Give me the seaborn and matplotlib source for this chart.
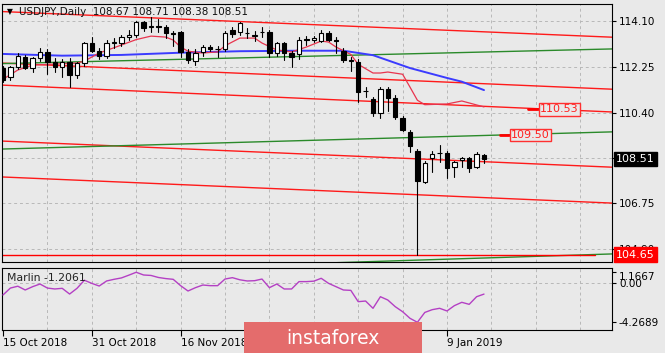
import matplotlib
matplotlib.use("Agg")
import matplotlib.pyplot as plt
from matplotlib.patches import Rectangle
import numpy as np
import pandas as pd
import seaborn as sns

# ---------------- data ----------------
opens = [112.20, 111.84, 112.24, 112.65, 112.20, 112.60, 112.85, 112.45, 112.24, 112.45,
         111.90, 112.40, 113.20, 112.90, 112.70, 113.20, 113.20, 113.45, 113.55, 114.05,
         113.85, 113.90, 113.85, 113.60, 113.65, 112.85, 112.50, 112.85, 113.05, 112.97,
         112.95, 113.75, 113.65, 113.60, 113.50, 113.65, 113.65, 112.80, 113.20, 112.80,
         112.75, 113.35, 113.33, 113.30, 113.62, 113.33, 112.90, 112.50, 112.45, 111.27,
         110.95, 110.40, 111.35, 111.00, 110.20, 109.60, 108.85, 107.60, 108.55, 108.77,
         108.77, 108.20, 108.48, 108.55, 108.20, 108.67]
highs = [112.30, 112.30, 112.80, 112.72, 112.65, 113.00, 112.95, 112.60, 112.55, 112.60,
         112.45, 113.25, 113.45, 113.00, 113.35, 113.40, 113.55, 113.75, 114.10, 114.10,
         114.25, 114.20, 113.95, 113.70, 113.70, 112.95, 112.95, 113.15, 113.15, 113.10,
         113.70, 113.85, 114.05, 113.80, 113.70, 113.85, 113.75, 113.25, 113.25, 112.90,
         113.45, 113.50, 113.50, 113.75, 113.70, 113.45, 113.00, 112.65, 112.55, 111.45,
         111.05, 111.45, 111.45, 111.10, 110.25, 109.70, 108.95, 108.45, 108.85, 109.10,
         108.85, 108.45, 108.62, 108.60, 108.82, 108.71]
lows = [111.62, 111.70, 112.15, 112.15, 112.05, 112.50, 111.98, 112.04, 111.85, 111.43,
        111.80, 112.30, 112.85, 112.55, 112.60, 113.00, 113.10, 113.35, 113.45, 113.70,
        113.65, 113.65, 113.40, 113.10, 112.65, 112.40, 112.32, 112.70, 112.90, 112.65,
        112.90, 113.45, 113.55, 113.40, 113.30, 113.45, 112.66, 112.70, 112.52, 112.26,
        112.55, 113.15, 113.25, 113.25, 113.30, 112.80, 112.45, 112.10, 110.84, 111.04,
        110.26, 110.18, 110.47, 110.15, 109.65, 108.80, 104.65, 107.54, 108.01, 108.42,
        107.75, 107.80, 108.19, 108.01, 108.15, 108.38]
closes = [111.72, 112.24, 112.69, 112.22, 112.60, 112.85, 112.45, 112.24, 112.45, 111.90,
          112.40, 113.20, 112.90, 112.70, 113.20, 113.25, 113.45, 113.55, 114.05, 113.80,
          113.88, 113.85, 113.60, 113.58, 112.85, 112.52, 112.80, 113.05, 112.95, 112.95,
          113.60, 113.57, 114.00, 113.60, 113.52, 113.66, 112.80, 113.20, 112.80, 112.66,
          113.33, 113.34, 113.40, 113.62, 113.33, 113.31, 112.53, 112.51, 111.25, 111.26,
          110.38, 111.34, 110.98, 110.23, 109.70, 109.05, 107.65, 108.37, 108.73, 108.76,
          108.16, 108.41, 108.55, 108.16, 108.73, 108.51]

blue_ma_bars = [0, 8, 16, 24, 32, 40, 46, 50, 55, 60, 62, 65]
blue_ma_vals = [112.77, 112.70, 112.73, 112.82, 112.88, 112.90, 112.90, 112.72, 112.20,
                111.80, 111.65, 111.31]

pink_ma_bars = [0, 2, 4, 10, 11, 13, 15, 18, 20, 22, 23, 24, 25, 27, 29, 30, 32, 34, 35,
                37, 39, 41, 43, 44, 45, 47, 48, 50, 51, 52, 54, 55, 56, 57, 60, 62, 63, 65]
pink_ma_vals = [111.75, 112.12, 112.32, 112.40, 112.48, 112.81, 113.02, 113.35, 113.49,
                113.45, 113.33, 113.05, 112.88, 112.81, 112.85, 113.10, 113.41, 113.41,
                113.21, 112.93, 112.85, 113.05, 113.29, 113.25, 113.05, 112.75, 112.35,
                112.00, 112.00, 112.04, 111.95, 111.43, 110.90, 110.72, 110.75, 110.87,
                110.79, 110.63]

marlin_vals = [-1.30, -0.55, -0.35, -0.76, -0.40, -0.11, -0.55, -0.65, -0.58, -1.20,
               -0.58, 0.30, -0.04, -0.33, 0.22, 0.40, 0.55, 0.85, 1.1667, 0.87,
               0.82, 0.60, 0.48, 0.40, -0.29, -0.87, -0.51, -0.22, -0.29, -0.29,
               0.43, 0.58, 0.35, 0.22, 0.25, 0.43, -0.51, -0.11, -0.65, -0.65,
               0.15, 0.15, 0.20, 0.51, -0.04, -0.40, -0.76, -0.80, -2.03, -1.96,
               -2.75, -1.49, -1.85, -2.57, -3.12, -3.84, -4.2689, -3.20, -2.90, -2.75,
               -3.04, -2.46, -2.10, -2.32, -1.49, -1.2061]

# trend lines: price at bar 0 and at bar 82
red_line_left = [114.48, 112.40, 111.51, 109.25, 107.80]
red_line_right = [113.45, 111.35, 110.43, 108.20, 106.75]
green_line_start_bar = [0, 0, 22]
green_line_left = [112.38, 108.93, 104.12]
green_line_right = [112.97, 109.62, 104.69]
support_level = 104.65
level_labels = [110.53, 109.50]
level_label_bar = [72.3, 68.4]

tick_bars = [0, 12, 24, 36, 48, 60]
tick_dates = ["15 Oct 2018", "31 Oct 2018", "16 Nov 2018", "", "", "9 Jan 2019"]
price_ticks = [114.10, 112.25, 110.40, 108.55, 106.75, 104.90]
price_tick_labels = ["114.10", "112.25", "110.40", "", "106.75", "104.90"]
marlin_ticks = [1.1667, 0.0, -4.2689]
marlin_tick_labels = ["1.1667", "0.00", "-4.2689"]
last_price = 108.51
title_text = "USDJPY,Daily  108.67 108.71 108.38 108.51"

# ---------------- style ----------------
BG = "#e9e9e9"
sns.set_theme(style="white", rc={"axes.facecolor": BG, "figure.facecolor": BG})
plt.rcParams["font.family"] = ["DejaVu Sans"]
FS = 7.5

W, H = 665, 353
fig = plt.figure(figsize=(W / 100, H / 100), dpi=100)
ax1 = fig.add_axes([2 / W, 1 - 262 / H, 610 / W, 258 / H])
ax2 = fig.add_axes([2 / W, 1 - 330 / H, 610 / W, 62 / H])

XLIM = (-1 / 7.4, 609 / 7.4)
for ax in (ax1, ax2):
    ax.set_facecolor(BG)
    ax.set_xlim(*XLIM)
    for s in ax.spines.values():
        s.set_color("black")
        s.set_linewidth(0.8)
    ax.yaxis.tick_right()
    ax.tick_params(axis="y", which="both", direction="out", length=3, width=0.8,
                   colors="black", labelsize=FS, pad=2, right=True, left=False)
ax1.set_ylim(104.367, 114.787)
ax2.set_ylim(-5.109, 1.630)

grid_kw = dict(color="#b8b8b8", lw=0.7, ls=(0, (3, 3)), zorder=0.5)
for b in range(6, 83, 6):
    ax1.axvline(b, **grid_kw)
    ax2.axvline(b, **grid_kw)
for p in price_ticks:
    ax1.axhline(p, **grid_kw)
ax2.axhline(0, **grid_kw)

# trend lines
for l, r in zip(red_line_left, red_line_right):
    ax1.plot([0 - 1, 82 + 1], [l - (r - l) / 82, r + (r - l) / 82], color="#ff1a1a", lw=1.0, zorder=1)
for sb, l, r in zip(green_line_start_bar, green_line_left, green_line_right):
    ax1.plot([sb, 83], [l, r + (r - l) / (82 - sb)], color="#2a8a2a", lw=1.0, zorder=1)
ax1.plot([-1, 80], [support_level, support_level], color="#ff0000", lw=1.0, zorder=1)

# moving averages
sns.lineplot(x=blue_ma_bars, y=blue_ma_vals, ax=ax1, color="#3b3bff", lw=1.4, zorder=2)
sns.lineplot(x=pink_ma_bars, y=pink_ma_vals, ax=ax1, color="#e8344e", lw=0.9, zorder=2)

# candles
df = pd.DataFrame({"o": opens, "h": highs, "l": lows, "c": closes})
bw = 0.62
for i, r in df.iterrows():
    ax1.plot([i, i], [r.l, r.h], color="black", lw=0.8, zorder=3)
    bottom = min(r.o, r.c)
    height = max(abs(r.c - r.o), 0.025)
    fc = "white" if r.c > r.o else "black"
    ax1.add_patch(Rectangle((i - bw / 2, bottom), bw, height, facecolor=fc,
                            edgecolor="black", lw=0.8, zorder=4))

# level labels
for lv, lb in zip(level_labels, level_label_bar):
    ax1.plot([lb - 1.3, lb], [lv, lv], color="#ff0000", lw=2.0, zorder=5)
    ax1.text(lb + 0.25, lv, f"{lv:.2f}", color="#ff2020", fontsize=FS + 0.5, va="center", ha="left",
             zorder=6, bbox=dict(boxstyle="square,pad=0.12", fc=BG, ec="#ff3030", lw=1.0))

ax1.set_yticks(price_ticks)
ax1.set_yticklabels(price_tick_labels)
ax1.set_xticks([])
ax1.set_xlabel("")
ax1.set_ylabel("")

# indicator
sns.lineplot(x=list(range(len(marlin_vals))), y=marlin_vals, ax=ax2, color="#b440c4", lw=1.0, zorder=3)
ax2.set_yticks(marlin_ticks)
ax2.set_yticklabels(marlin_tick_labels)
for t in ax2.get_yticklabels():
    if t.get_text() == "1.1667":
        t.set_va("top")
ax2.set_xticks(tick_bars)
ax2.set_xticklabels(tick_dates, ha="left")
ax2.tick_params(axis="x", direction="out", length=4, width=0.8, labelsize=FS, pad=2,
                colors="black", bottom=True)
for t in ax2.get_xticklabels():
    t.set_horizontalalignment("left")
ax2.set_xlabel("")
ax2.set_ylabel("")
ax2.text(0.008, 0.84, "Marlin " + f"{marlin_vals[-1]:.4f}", transform=ax2.transAxes,
         fontsize=FS + 0.3, color="#222222", va="center", ha="left")

# title
fig.text(7 / W, 1 - 12 / H, "\u25BC", fontsize=5.5, color="black", va="center", ha="left")
fig.text(19 / W, 1 - 12 / H, title_text, fontsize=FS, color="#111111", va="center", ha="left")

# right axis boxes
fig.text(616 / W, 1 - 159 / H, f"{last_price:.2f}", fontsize=FS + 0.5, color="white", va="center",
         ha="left", bbox=dict(boxstyle="square,pad=0.2", fc="black", ec="black"), zorder=6)
fig.text(616 / W, 1 - 254.5 / H, f"{support_level:.2f}", fontsize=FS + 0.5, color="white", va="center",
         ha="left", bbox=dict(boxstyle="square,pad=0.2", fc="#ff0000", ec="#ff0000"), zorder=6)

# watermark
fig.add_artist(Rectangle((244 / W, 0), 178 / W, 31 / H, transform=fig.transFigure,
                         facecolor="#e46c6c", edgecolor="none", zorder=7))
fig.text(333 / W, 1 - 338 / H, "instaforex", fontsize=13.5, color="white", va="center",
         ha="center", zorder=8)

fig.savefig("out.png", dpi=100, facecolor=BG)
